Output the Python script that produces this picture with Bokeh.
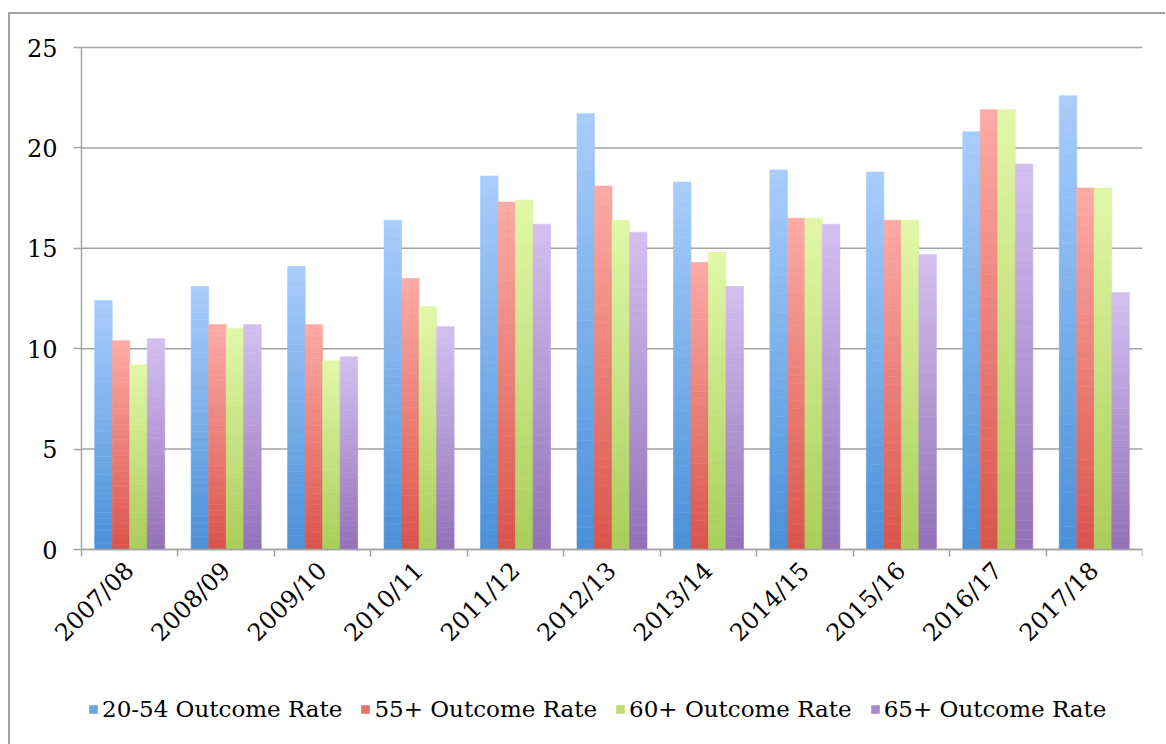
import math
from bokeh.plotting import figure
from bokeh.models import (Range1d, FixedTicker, Legend, LegendItem, ColumnDataSource)
from bokeh.embed import file_html
from bokeh.resources import INLINE

# ---- data ----
categories = ["2007/08", "2008/09", "2009/10", "2010/11", "2011/12", "2012/13",
              "2013/14", "2014/15", "2015/16", "2016/17", "2017/18"]
series_names = ["20-54 Outcome Rate", "55+ Outcome Rate", "60+ Outcome Rate", "65+ Outcome Rate"]
rate_20_54 = [12.4, 13.1, 14.1, 16.4, 18.6, 21.7, 18.3, 18.9, 18.8, 20.8, 22.6]
rate_55 = [10.4, 11.2, 11.2, 13.5, 17.3, 18.1, 14.3, 16.5, 16.4, 21.9, 18.0]
rate_60 = [9.2, 11.0, 9.4, 12.1, 17.4, 16.4, 14.8, 16.5, 16.4, 21.9, 18.0]
rate_65 = [10.5, 11.2, 9.6, 11.1, 16.2, 15.8, 13.1, 16.2, 14.7, 19.2, 12.8]
y_ticks = [0, 5, 10, 15, 20, 25]

series_values = [rate_20_54, rate_55, rate_60, rate_65]
# (bottom colour, top colour) for the vertical gradients
grad_colors = [((0x4a, 0x90, 0xd9), (0xa9, 0xcd, 0xfc)),
               ((0xd9, 0x54, 0x4a), (0xfc, 0xab, 0xa6)),
               ((0xa9, 0xcd, 0x59), (0xe2, 0xf8, 0xa8)),
               ((0x93, 0x70, 0xb8), (0xd4, 0xc0, 0xf0))]

FONT = "DejaVu Serif"
GRID = "#a3a3a3"

n = len(categories)
# value area: 1061 x 502 px; the frame extends left, above and below it so
# that the axis labels and the legend sit inside it
PLOT_W, PLOT_H = 1061, 502
PAD_L = 71
PAD_T = 20
BELOW = 195
FRAME_W = PLOT_W + PAD_L
FRAME_H = PAD_T + PLOT_H + BELOW
span = y_ticks[-1] - y_ticks[0]
x_start = -PAD_L * n / PLOT_W
y_end = y_ticks[-1] + PAD_T * span / PLOT_H
y_start = y_ticks[0] - BELOW * span / PLOT_H

p = figure(frame_width=FRAME_W, frame_height=FRAME_H,
           x_range=Range1d(x_start, n), y_range=Range1d(y_start, y_end),
           output_backend="svg", toolbar_location=None,
           min_border_left=0, min_border_right=23, min_border_top=33 - PAD_T,
           min_border_bottom=0)
p.outline_line_color = None
p.background_fill_color = "white"
p.border_fill_color = "white"
# outer chart frame: only its left and top edges are inside the picture
p.styles = {"margin-left": "8px", "margin-top": "12px",
            "border-top": "2px solid #a3a3a3", "border-left": "2px solid #a3a3a3"}

# horizontal grid lines over the value area
p.segment(x0=[0] * len(y_ticks), y0=y_ticks, x1=[n] * len(y_ticks), y1=y_ticks,
          line_color=GRID, line_width=1.5)


def mix(c0, c1, t):
    return "#%02x%02x%02x" % tuple(int(round(a + (b - a) * t)) for a, b in zip(c0, c1))


bar_w = 0.1815
offsets = [-1.5, -0.5, 0.5, 1.5]
N = 40
bar_renderers = []
for s, vals in enumerate(series_values):
    c0, c1 = grad_colors[s]
    L, R, B, T, C = [], [], [], [], []
    for i, v in enumerate(vals):
        xc = i + 0.5 + offsets[s] * bar_w
        for k in range(N):
            L.append(xc - bar_w / 2)
            R.append(xc + bar_w / 2)
            B.append(v * k / N)
            T.append(v * (k + 1) / N)
            C.append(mix(c0, c1, (k + 0.5) / N))
    src = ColumnDataSource(dict(left=L, right=R, bottom=B, top=T, color=C))
    r = p.quad(left="left", right="right", bottom="bottom", top="top", source=src,
               fill_color="color", line_color="color", line_width=0.6)
    bar_renderers.append(r)

legend_items = [LegendItem(label=name, renderers=[r], index=N // 3)
                for name, r in zip(series_names, bar_renderers)]
legend = Legend(items=legend_items, orientation="horizontal", location=(78, 22),
                label_text_font=FONT, label_text_font_size="23px",
                label_text_color="black",
                glyph_width=10, glyph_height=10, spacing=18, label_standoff=4,
                border_line_color=None, background_fill_alpha=0, padding=0,
                margin=0)
p.add_layout(legend)

# y axis at x = 0
p.yaxis.fixed_location = 0
p.yaxis.bounds = (y_ticks[0], y_ticks[-1])
p.yaxis.ticker = FixedTicker(ticks=y_ticks)
p.yaxis.axis_line_color = GRID
p.yaxis.axis_line_width = 1.5
p.yaxis.major_tick_line_color = GRID
p.yaxis.major_tick_line_width = 1.5
p.yaxis.major_tick_out = 8
p.yaxis.major_tick_in = 0
p.yaxis.minor_tick_line_color = None
p.yaxis.major_label_standoff = 16
p.yaxis.major_label_text_font = FONT
p.yaxis.major_label_text_font_size = "24px"
p.yaxis.major_label_text_color = "black"

# x axis at value 0: labels at centres, ticks at category boundaries
centers = [i + 0.5 for i in range(n)]
p.xaxis.fixed_location = y_ticks[0]
p.xaxis.bounds = (0, n)
p.xaxis.ticker = FixedTicker(ticks=centers, minor_ticks=list(range(n + 1)))
p.xaxis.major_label_overrides = {c: lab for c, lab in zip(centers, categories)}
p.xaxis.major_label_orientation = math.pi / 4
p.xaxis.major_tick_line_color = None
p.xaxis.major_tick_out = 0
p.xaxis.minor_tick_line_color = GRID
p.xaxis.minor_tick_line_width = 1.5
p.xaxis.minor_tick_out = 7
p.xaxis.minor_tick_in = 0
p.xaxis.axis_line_color = GRID
p.xaxis.axis_line_width = 1.5
p.xaxis.major_label_standoff = 10
p.xaxis.major_label_text_font = FONT
p.xaxis.major_label_text_font_size = "24px"
p.xaxis.major_label_text_color = "black"

p.xgrid.grid_line_color = None
p.ygrid.grid_line_color = None

open("out.html", "w").write(file_html(p, INLINE))
